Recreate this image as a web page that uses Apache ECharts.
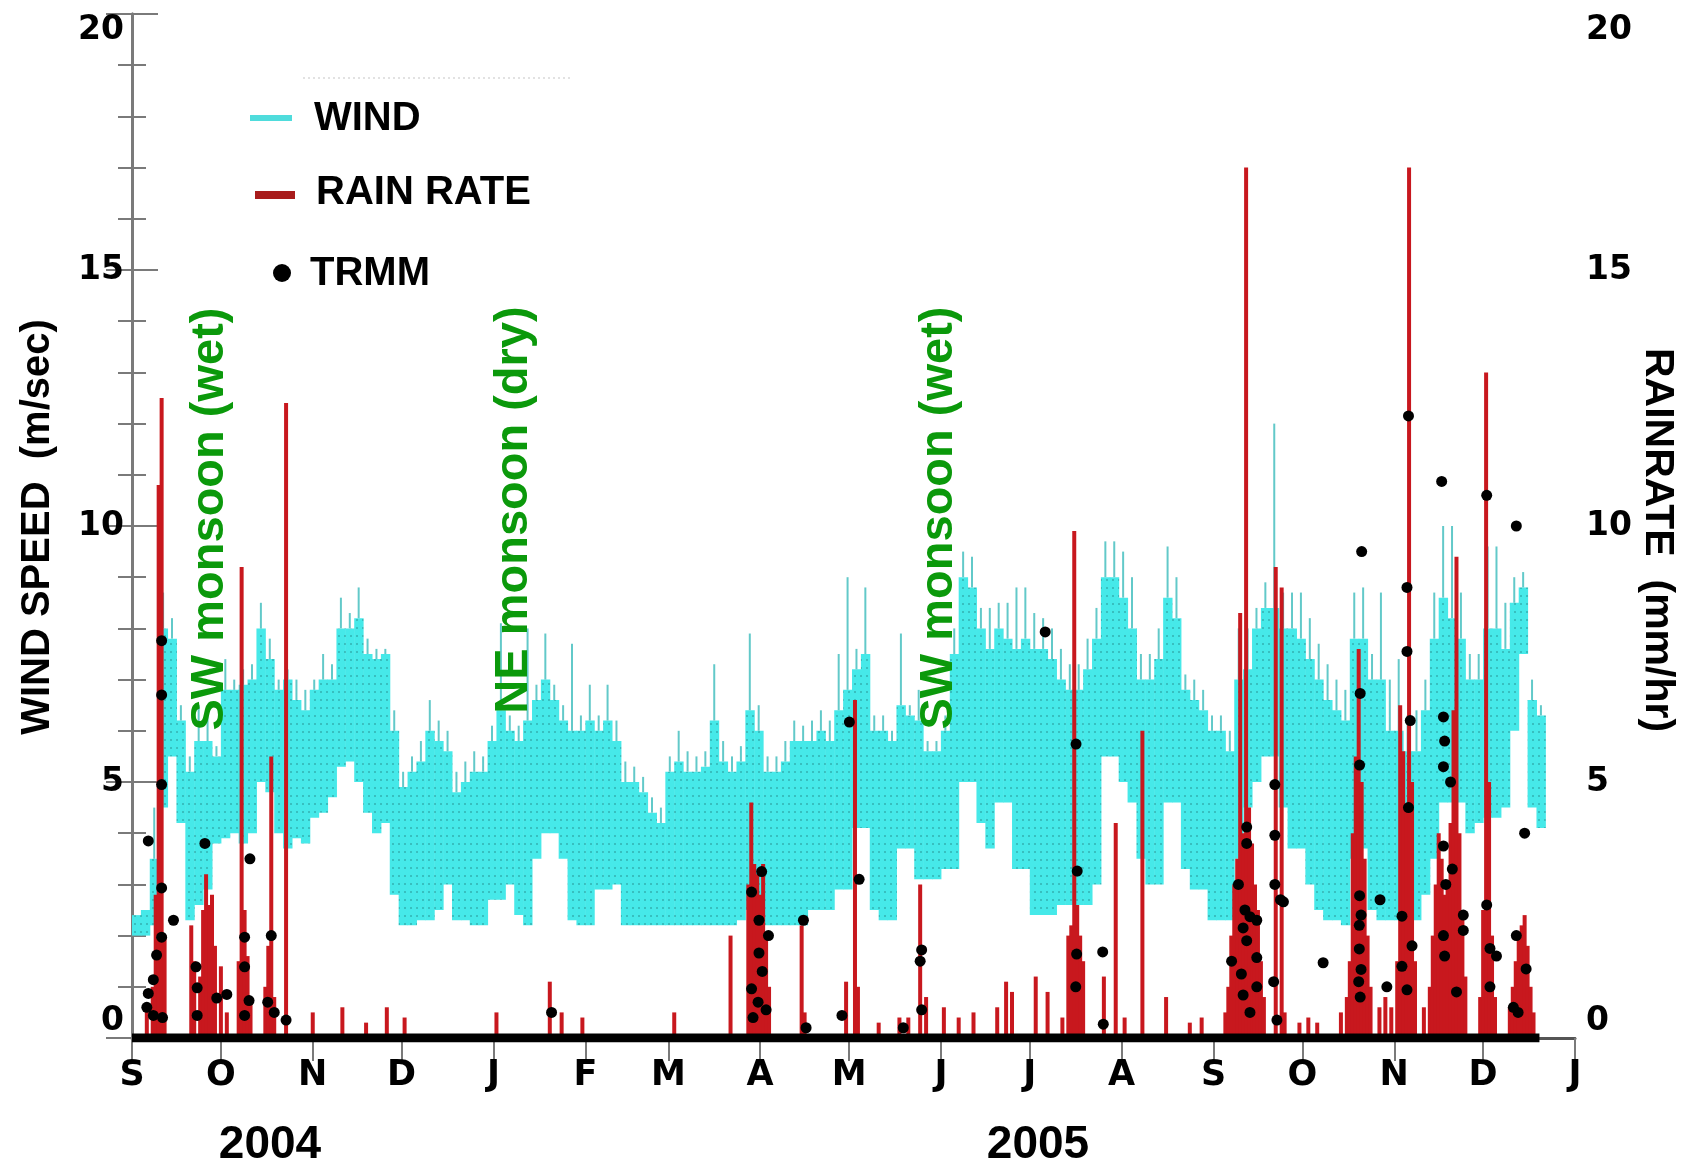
<!DOCTYPE html>
<html>
<head>
<meta charset="utf-8">
<script src="https://cdn.jsdelivr.net/npm/echarts@6/dist/echarts.min.js"></script>
<style>
  html, body { margin: 0; padding: 0; background: #ffffff; }
  #chart { width: 1686px; height: 1167px; }
</style>
</head>
<body>
<div id="chart"></div>
<script>
// Time is counted in days since 1 Sep 2004
const START = new Date(2004, 8, 1);
const WIND_STEP = 3;          // days covered by each wind block
const RECORD_END_DAY = 475;   // last day of the mooring record

// Wind speed (m/sec): low / high of each 3-day block, and its highest gust spike
const windLo = [
  2.0, 2.0, 2.2, 4.5, 5.5, 4.2, 2.3, 2.6, 2.9, 3.8,   // Sep 2004
  3.9, 4.0, 3.8, 4.0, 5.0, 4.8, 4.0, 3.7, 3.9, 3.8,   // Oct
  4.3, 4.4, 4.7, 5.3, 5.4, 5.0, 4.4, 4.0, 4.2, 2.8,   // Nov
  2.2, 2.2, 2.3, 2.3, 2.5, 3.0, 2.3, 2.3, 2.2, 2.2,   // Dec
  2.7, 2.7, 3.0, 2.4, 2.2, 3.5, 4.0, 4.0, 3.5, 2.3,   // Jan 2005
  2.2, 2.2, 2.9, 2.9, 3.0, 2.2, 2.2, 2.2, 2.2, 2.2,   // Feb
  2.2, 2.2, 2.2, 2.2, 2.2, 2.2, 2.2, 2.2, 2.3, 2.5,   // Mar
  2.5, 2.2, 2.2, 2.2, 2.2, 2.2, 2.5, 2.5, 2.5, 2.9,   // Apr
  2.9, 4.1, 4.1, 2.5, 2.3, 2.3, 3.7, 3.7, 3.1, 3.1,   // May
  3.1, 3.3, 3.3, 5.0, 5.0, 4.2, 3.7, 4.6, 4.6, 3.3,   // Jun
  3.3, 2.4, 2.4, 2.4, 2.6, 2.6, 2.6, 2.6, 3.0, 5.5,   // Jul
  5.5, 5.0, 4.6, 3.5, 3.0, 3.0, 4.6, 4.6, 3.3, 2.9,   // Aug
  2.9, 2.3, 2.3, 2.3, 3.5, 4.5, 5.0, 5.5, 5.5, 4.5,   // Sep
  3.7, 3.7, 3.0, 2.5, 2.3, 2.3, 2.2, 3.5, 3.7, 2.5,   // Oct
  2.3, 2.3, 2.3, 2.3, 2.3, 2.8, 3.5, 4.6, 4.6, 4.6,   // Nov
  4.0, 4.2, 4.3, 4.3, 4.5, 6.0, 7.5, 4.5, 4.1        // Dec
];
const windHi = [
  2.4, 2.5, 3.5, 8.0, 7.8, 6.2, 5.2, 5.8, 5.8, 5.5,
  6.8, 6.8, 6.9, 7.0, 8.0, 7.4, 6.8, 7.0, 6.6, 6.4,
  6.8, 7.0, 7.0, 8.0, 8.0, 8.2, 7.5, 7.4, 7.5, 6.0,
  4.9, 5.2, 5.4, 6.0, 5.8, 5.6, 4.8, 5.0, 5.2, 5.2,
  5.8, 6.4, 6.0, 5.8, 6.2, 6.6, 7.0, 6.6, 6.2, 6.0,
  6.0, 6.2, 6.0, 6.2, 5.8, 5.0, 5.0, 4.8, 4.4, 4.2,
  5.2, 5.4, 5.2, 5.2, 5.3, 6.2, 5.4, 5.2, 5.4, 6.4,
  6.0, 5.2, 5.2, 5.4, 5.8, 5.8, 5.8, 6.0, 5.8, 6.4,
  6.8, 7.2, 7.5, 6.0, 6.0, 5.8, 6.5, 6.3, 6.2, 5.6,
  5.6, 6.0, 7.5, 9.0, 8.8, 8.0, 7.6, 8.0, 7.8, 7.6,
  7.8, 7.6, 7.6, 7.4, 7.0, 6.8, 6.8, 7.2, 7.8, 9.0,
  9.0, 8.6, 8.0, 7.0, 7.0, 7.4, 8.6, 8.2, 6.8, 6.6,
  6.4, 6.0, 6.0, 5.6, 7.0, 7.2, 8.0, 8.4, 8.4, 8.0,
  8.0, 7.8, 7.4, 7.0, 6.6, 6.4, 6.2, 7.8, 7.8, 7.0,
  7.0, 6.0, 6.0, 5.6, 5.6, 6.4, 7.8, 8.6, 8.2, 7.8,
  7.0, 7.0, 8.0, 8.0, 7.6, 8.5, 8.8, 6.6, 6.3
];
const windPeak = [
  2.4, 2.5, 4.5, 8.7, 8.2, 6.5, 5.5, 6.5, 6.5, 5.7,
  7.4, 7.0, 7.2, 7.3, 8.5, 7.8, 7.0, 7.2, 7.0, 6.8,
  7.0, 7.5, 7.3, 8.6, 8.3, 8.8, 7.8, 7.6, 7.6, 6.4,
  5.2, 5.5, 5.8, 6.6, 6.2, 6.0, 5.2, 5.4, 5.6, 5.5,
  6.1, 8.1, 6.3, 6.1, 8.0, 6.9, 7.9, 6.9, 6.5, 7.7,
  6.3, 6.9, 6.3, 6.9, 6.2, 5.4, 5.3, 5.1, 4.7, 4.5,
  5.5, 6.0, 5.6, 5.5, 5.6, 7.3, 5.8, 5.5, 5.7, 7.9,
  6.5, 5.5, 5.5, 5.8, 6.2, 6.1, 6.2, 6.4, 6.2, 7.5,
  9.0, 7.6, 8.8, 6.3, 6.3, 6.0, 7.9, 6.5, 6.8, 5.8,
  5.8, 6.3, 8.0, 9.5, 9.4, 8.4, 8.4, 8.5, 8.5, 8.8,
  8.8, 8.3, 8.2, 8.0, 7.6, 7.3, 7.3, 7.8, 8.4, 9.7,
  9.7, 9.5, 9.0, 7.5, 7.5, 8.0, 9.6, 9.0, 7.1, 7.0,
  6.8, 6.3, 6.3, 6.0, 8.0, 8.0, 8.4, 8.9, 12.0, 8.7,
  8.7, 8.7, 8.2, 7.7, 7.3, 7.0, 6.8, 8.7, 8.8, 7.5,
  8.7, 7.0, 7.4, 6.3, 6.4, 7.0, 8.7, 10.0, 10.0, 8.7,
  7.5, 7.5, 9.6, 9.6, 8.5, 9.0, 9.1, 7.0, 6.5
];

// Buoy rain rate (mm/hr): day since 1 Sep 2004 and value
const rainDay = [
  5, 7, 8, 9, 10, 11, 20, 21, 23, 24, 25, 26, 27, 28, 30, 32,
  36, 37, 38, 39, 40, 45, 46, 47, 48, 52,
  61, 71, 79, 86, 92,
  123, 141, 145, 152,
  183, 202,
  208, 209, 210, 211, 212, 213, 214, 215, 226, 227, 241, 244, 245,
  252, 259, 262, 266, 268, 274, 279, 284, 292, 295, 297,
  305, 309, 314, 316, 317, 318, 319, 320, 321, 328, 332, 335,
  341, 349, 357, 361,
  369, 370, 371, 372, 373, 374, 375, 376, 377, 378, 379, 380, 381, 382, 386, 388, 389,
  394, 397, 400, 408, 410, 411, 412, 413, 414, 415, 416, 417, 418, 421, 423,
  425, 427, 428, 429, 430, 431, 432, 433, 436, 438, 439, 440, 441, 442, 443, 444, 445, 446, 447, 448, 449, 450,
  455, 456, 457, 458, 459, 460, 465, 466, 467, 468, 469, 470, 471, 472, 473
];
const rainRate = [
  0.6, 1.0, 2.8, 10.8, 12.5, 2.0, 2.2, 1.5, 1.2, 2.5, 3.2, 2.6, 2.8, 1.8, 1.4, 0.5,
  1.5, 9.2, 2.5, 1.6, 0.8, 1.0, 1.8, 5.5, 0.8, 12.4,
  0.5, 0.6, 0.3, 0.6, 0.4,
  0.5, 1.1, 0.5, 0.4,
  0.5, 2.0,
  3.0, 4.6, 3.4, 3.2, 2.8, 3.4, 2.0, 1.0, 2.2, 0.5, 1.1, 6.6, 1.0,
  0.3, 0.4, 0.4, 3.0, 0.8, 0.6, 0.4, 0.5, 0.6, 1.1, 0.9,
  1.2, 0.9, 0.4, 2.0, 2.2, 9.9, 2.6, 2.0, 1.5, 1.2, 4.2, 0.4,
  6.0, 0.8, 0.3, 0.4,
  0.5, 1.0, 2.0, 3.0, 3.5, 8.3, 4.0, 17.0, 4.5, 3.8, 3.0, 2.5, 1.5, 0.8, 9.2, 8.8, 0.5,
  0.3, 0.4, 0.3, 0.5, 0.8, 1.5, 4.0, 5.5, 7.6, 5.0, 3.5, 2.0, 1.0, 0.6, 0.8,
  0.6, 1.5, 6.5, 5.6, 4.5, 17.0, 5.0, 1.5, 0.6, 1.0, 2.0, 3.0, 4.0, 3.5, 2.8, 3.0, 4.2, 6.4, 9.4, 4.0, 2.5, 1.2,
  0.8, 2.5, 13.0, 5.0, 2.0, 0.8, 0.6, 1.0, 1.5, 2.0, 2.2, 2.4, 1.8, 1.0, 0.5
];

// TRMM satellite rain rate at the buoy (mm/hr)
const trmmDay = [
  5.5, 10, 10, 10, 10, 14, 10, 8.3, 7.2, 5.5, 7.2, 10.3, 5, 24.6, 21.6, 22, 28.6, 32, 22,
  38, 38, 39.8, 39.5, 38, 47, 45.8, 48, 52,
  141.6,
  212.5, 209.1, 211.6, 214.8, 211.6, 212.7, 209.1, 211.3, 214, 209.6, 226.6, 227.5,
  242.1, 245.4, 239.6, 260.3, 266.5, 266, 266.5,
  308.2, 318.6, 319, 318.8, 318.5, 327.6, 327.8,
  376.2, 376.2, 373.4, 375.6, 377.3, 379.6, 375, 376.2, 371.1, 379.6, 374.4, 379.6, 375, 377.3,
  385.7, 385.7, 385.7, 387.6, 385.3, 386.4, 388.6,
  402, 415, 414.5, 414.3, 421.2, 414.3, 414.8, 414.2, 414.2, 414.8, 414, 414.5, 423.5,
  430.8, 430.3, 430.3, 431.4, 430.8, 428.6, 432, 428.6, 430.3, 442, 442.6, 443, 442.6, 445,
  442.6, 445.6, 443.4, 442.6, 443, 447, 449.3, 449.3,
  457.2, 457.2, 458.3, 460.5, 458.3, 467.2, 470, 467.2, 470.5, 466.2, 467.8
];
const trmmRate = [
  3.85, 7.76, 6.7, 4.95, 2.93, 2.3, 1.97, 1.62, 1.14, 0.87, 0.44, 0.4, 0.6, 3.8, 1.39, 0.98, 0.78, 0.85, 0.44,
  1.97, 1.39, 3.5, 0.73, 0.44, 2.0, 0.7, 0.5, 0.35,
  0.5,
  3.25, 2.85, 2.3, 2.0, 1.66, 1.3, 0.96, 0.7, 0.55, 0.4, 2.3, 0.2,
  6.17, 3.1, 0.44, 0.2, 1.72, 1.5, 0.55,
  7.93, 5.74, 3.26, 1.64, 1.0, 1.68, 0.27,
  4.12, 3.8, 3.0, 2.5, 2.37, 2.3, 2.15, 1.9, 1.5, 1.57, 1.25, 1.0, 0.84, 0.5,
  4.95, 3.96, 3.0, 2.7, 1.1, 0.35, 2.66,
  1.47, 9.5, 6.73, 5.33, 2.7, 2.78, 2.4, 2.2, 1.74, 1.34, 1.1, 0.8, 1.0,
  12.15, 8.8, 7.55, 6.2, 4.5, 2.38, 1.8, 1.4, 0.94, 10.87, 6.27, 5.8, 5.3, 5.0,
  3.75, 3.3, 3.0, 2.0, 1.6, 0.9, 2.1, 2.4,
  10.6, 2.6, 1.75, 1.6, 1.0, 10.0, 4.0, 2.0, 1.35, 0.6, 0.5
];

// Axis labels
const monthLetters = ['J', 'F', 'M', 'A', 'M', 'J', 'J', 'A', 'S', 'O', 'N', 'D'];
const yearLabels = [{ text: '2004', x: 270 }, { text: '2005', x: 1038 }];

// Day number of the first of each month, Sep 2004 .. Jan 2006
const monthStartDays = [];
const monthStartLetter = {};
for (let k = 0; k <= 16; k++) {
  const d = new Date(2004, 8 + k, 1);
  const n = Math.round((d - START) / 86400000);
  monthStartDays.push(n);
  monthStartLetter[n] = monthLetters[d.getMonth()];
}
const X_MAX = monthStartDays[monthStartDays.length - 1];

// Dotted cyan fill for the wind band (hourly samples)
const pat = document.createElement('canvas');
pat.width = 6; pat.height = 8;
const pg = pat.getContext('2d');
pg.fillStyle = '#46e9e9';
pg.fillRect(0, 0, 6, 8);
pg.fillStyle = 'rgba(40,150,150,0.5)';
pg.fillRect(2, 3, 2, 2);
const windFill = { image: pat, repeat: 'repeat' };

const windData = windLo.map((lo, i) => [i * WIND_STEP, lo, windHi[i], windPeak[i]]);
const rainData = rainDay.map((d, i) => [d, rainRate[i]]);
const trmmData = trmmDay.map((d, i) => [d, trmmRate[i]]);

const AXIS_GREY = '#7a7a7a';
const TICK_FONT = { color: '#000', fontFamily: 'DejaVu Sans', fontWeight: 'bold', fontSize: 33 };

const yAxisBase = {
  type: 'value', min: 0, max: 20, interval: 5,
  axisLine: { show: true, lineStyle: { color: AXIS_GREY, width: 3 } },
  axisTick: { show: true, inside: true, length: 26, lineStyle: { color: AXIS_GREY, width: 2 } },
  minorTick: { show: true, splitNumber: 5, length: 14, lineStyle: { color: AXIS_GREY, width: 2 } },
  splitLine: { show: false },
  axisLabel: Object.assign({
    showMinLabel: true, showMaxLabel: true,
    verticalAlignMinLabel: 'bottom', verticalAlignMaxLabel: 'top'
  }, TICK_FONT)
};

const chart = echarts.init(document.getElementById('chart'), null, { renderer: 'canvas' });

chart.setOption({
  animation: false,
  backgroundColor: '#ffffff',
  grid: { left: 132, right: 111, top: 14, bottom: 129, containLabel: false, outerBoundsMode: 'none' },
  xAxis: [
    {
      type: 'value', min: 0, max: X_MAX, position: 'bottom',
      axisLine: { show: true, lineStyle: { color: AXIS_GREY, width: 2 } },
      axisTick: { show: false },
      splitLine: { show: false },
      axisLabel: {
        customValues: monthStartDays,
        showMinLabel: true, showMaxLabel: true,
        margin: 20,
        formatter: v => monthStartLetter[Math.round(v)] || '',
        color: '#000', fontFamily: 'DejaVu Sans', fontWeight: 'bold', fontSize: 35
      }
    },
    {
      type: 'value', min: 0, max: X_MAX, position: 'top',
      axisLine: { show: true, lineStyle: { color: '#555', width: 3 } },
      axisTick: { show: true, inside: true, length: 23, customValues: monthStartDays, lineStyle: { color: AXIS_GREY, width: 2 } },
      axisLabel: { show: false },
      splitLine: { show: false }
    }
  ],
  yAxis: [
    Object.assign({}, yAxisBase, { position: 'left', axisLabel: Object.assign({}, yAxisBase.axisLabel, { margin: 8 }) }),
    Object.assign({}, yAxisBase, { position: 'right', axisLabel: Object.assign({}, yAxisBase.axisLabel, { margin: 11 }) })
  ],
  series: [
    {
      name: 'WIND', type: 'custom', xAxisIndex: 0, yAxisIndex: 0, z: 2,
      encode: { x: 0, y: [1, 2, 3] },
      data: windData,
      renderItem(params, api) {
        const d0 = api.value(0);
        const d1 = d0 + WIND_STEP;
        const pLo = api.coord([d0, api.value(1)]);
        const pHi = api.coord([d1, api.value(2)]);
        const pPk = api.coord([(d0 + d1) / 2, api.value(3)]);
        return {
          type: 'group',
          children: [
            { type: 'rect', shape: { x: pLo[0], y: pHi[1], width: pHi[0] - pLo[0] + 0.5, height: pLo[1] - pHi[1] },
              style: { fill: windFill } },
            { type: 'line', shape: { x1: pPk[0], y1: pHi[1], x2: pPk[0], y2: pPk[1] },
              style: { stroke: '#62c9c9', lineWidth: 2 } }
          ]
        };
      }
    },
    {
      name: 'RAIN RATE', type: 'bar', xAxisIndex: 0, yAxisIndex: 1, z: 3,
      barWidth: 4,
      itemStyle: { color: '#c8181e' },
      data: rainData
    },
    {
      name: 'record', type: 'line', xAxisIndex: 0, yAxisIndex: 1, z: 4,
      symbol: 'none', silent: true,
      lineStyle: { color: '#000', width: 9 },
      data: [[0, 0], [RECORD_END_DAY, 0]]
    },
    {
      name: 'TRMM', type: 'scatter', xAxisIndex: 0, yAxisIndex: 1, z: 5,
      symbol: 'circle', symbolSize: 11,
      itemStyle: { color: '#000', opacity: 1 },
      data: trmmData
    }
  ],
  graphic: [
    // legend
    { type: 'line', shape: { x1: 303, y1: 78, x2: 570, y2: 78 }, style: { stroke: '#e2e2e2', lineWidth: 2, lineDash: [2, 3] } },
    { type: 'rect', shape: { x: 250, y: 115, width: 42, height: 6 }, style: { fill: '#4fdcdc' } },
    { type: 'text', x: 314, y: 119, style: { text: 'WIND', fontFamily: 'Liberation Sans', fontWeight: 'bold', fontSize: 40, fill: '#000', textVerticalAlign: 'middle' } },
    { type: 'rect', shape: { x: 255, y: 191, width: 40, height: 8 }, style: { fill: '#a81c1c' } },
    { type: 'text', x: 316, y: 193, style: { text: 'RAIN RATE', fontFamily: 'Liberation Sans', fontWeight: 'bold', fontSize: 40, fill: '#000', textVerticalAlign: 'middle' } },
    { type: 'circle', shape: { cx: 282, cy: 273, r: 9 }, style: { fill: '#000' } },
    { type: 'text', x: 310, y: 274, style: { text: 'TRMM', fontFamily: 'Liberation Sans', fontWeight: 'bold', fontSize: 40, fill: '#000', textVerticalAlign: 'middle' } },
    // axis titles
    { type: 'text', x: 38, y: 527, rotation: Math.PI / 2,
      style: { text: 'WIND SPEED  (m/sec)', fontFamily: 'Liberation Sans', fontWeight: 'bold', fontSize: 40, fill: '#000', textAlign: 'center', textVerticalAlign: 'middle' } },
    { type: 'text', x: 1657, y: 540, rotation: -Math.PI / 2,
      style: { text: 'RAINRATE  (mm/hr)', fontFamily: 'Liberation Sans', fontWeight: 'bold', fontSize: 41, fill: '#000', textAlign: 'center', textVerticalAlign: 'middle' } },
    // monsoon seasons
    { type: 'text', x: 210, y: 519, rotation: Math.PI / 2, z: 10,
      style: { text: 'SW monsoon (wet)', fontFamily: 'Liberation Sans', fontWeight: 'bold', fontSize: 47, fill: '#0b990b', textAlign: 'center', textVerticalAlign: 'middle' } },
    { type: 'text', x: 514, y: 510, rotation: Math.PI / 2, z: 10,
      style: { text: 'NE monsoon (dry)', fontFamily: 'Liberation Sans', fontWeight: 'bold', fontSize: 47, fill: '#0b990b', textAlign: 'center', textVerticalAlign: 'middle' } },
    { type: 'text', x: 939, y: 518, rotation: Math.PI / 2, z: 10,
      style: { text: 'SW monsoon (wet)', fontFamily: 'Liberation Sans', fontWeight: 'bold', fontSize: 47, fill: '#0b990b', textAlign: 'center', textVerticalAlign: 'middle' } }
  ].concat(yearLabels.map(y => ({
    type: 'text', x: y.x, y: 1145,
    style: { text: y.text, fontFamily: 'Liberation Sans', fontWeight: 'bold', fontSize: 46, fill: '#000', textAlign: 'center', textVerticalAlign: 'middle' }
  })))
});
</script>
</body>
</html>
